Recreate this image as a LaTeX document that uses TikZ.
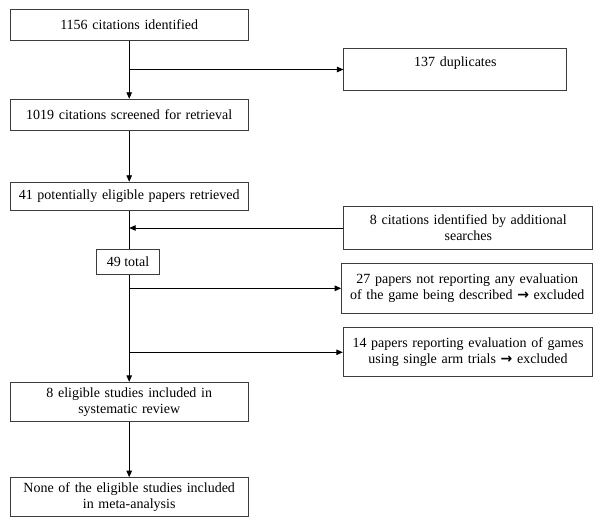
\documentclass[tikz,border=0pt]{standalone}
\usepackage{fontspec}
\setmainfont{Liberation Serif}
\newfontfamily\arrowfont{DejaVu Sans}
\usetikzlibrary{arrows.meta, positioning, calc}
\definecolor{boxgray}{RGB}{60,60,60}

\begin{document}
\begin{tikzpicture}[x=1pt, y=-1pt,
        stagebox/.style={draw=boxgray, line width=1pt, inner sep=0pt, align=center,
            font=\fontsize{14}{16}\selectfont},
        flowarrow/.style={-{Triangle[length=6.5pt,width=5.5pt]}, line width=0.9pt}]
        \useasboundingbox (0,0) rectangle (600,526);

        % Main column
        \node[stagebox, minimum width=238.3pt, minimum height=31.4pt, text width=232pt] (found) at (129.2,25) {1156 citations identified};
        \node[stagebox, minimum width=238.3pt, minimum height=31.4pt, text width=232pt] (screened) at (129.2,115) {1019 citations screened for retrieval};
        \node[stagebox, minimum width=238.3pt, minimum height=28.4pt, text width=232pt] (retrieved) at (129.2,196.5) {41 potentially eligible papers retrieved};
        \node[stagebox, minimum width=62.6pt, minimum height=25pt] (total) at (128,261.8) {49 total};
        \node[stagebox, minimum width=238.3pt, minimum height=38.7pt, text width=232pt] (review) at (129.2,401.7) {8 eligible studies included in\\systematic review};
        \node[stagebox, minimum width=238.3pt, minimum height=39pt, text width=232pt] (meta) at (129.2,497.2) {None of the eligible studies included\\in meta-analysis};

        % Side column
        \node[stagebox, minimum width=222.7pt, minimum height=42.4pt, text width=216pt] (dups) at (455.3,69.5) {137 duplicates\\\mbox{}};
        \node[stagebox, minimum width=248.7pt, minimum height=42.6pt, text width=242pt] (extra) at (468.3,228) {8 citations identified by additional\\searches};
        \node[stagebox, minimum width=251pt, minimum height=50pt, text width=245pt] (noeval) at (467.2,288.3) {27 papers not reporting any evaluation\\of the game being described {\arrowfont\bfseries\fontsize{14}{16}\selectfont →} excluded};
        \node[stagebox, minimum width=249.4pt, minimum height=48.7pt, text width=243pt] (single) at (468,352.3) {14 papers reporting evaluation of games\\using single arm trials {\arrowfont\bfseries\fontsize{14}{16}\selectfont →} excluded};

        % Connectors
        \draw[flowarrow] (found.south) -- (screened.north);
        \draw[flowarrow] (found.south |- dups.west) -- (dups.west);
        \draw[flowarrow] (screened.south) -- (retrieved.north);
        \draw[line width=0.9pt] (retrieved.south) -- (retrieved.south |- total.north);
        \draw[flowarrow] (extra.west) -- (extra.west -| retrieved.south);
        \draw[flowarrow] (review.north |- total.south) -- (review.north);
        \draw[flowarrow] (noeval.west -| review.north) -- (noeval.west);
        \draw[flowarrow] (single.west -| review.north) -- (single.west);
        \draw[flowarrow] (review.south) -- (meta.north);
\end{tikzpicture}
\end{document}
